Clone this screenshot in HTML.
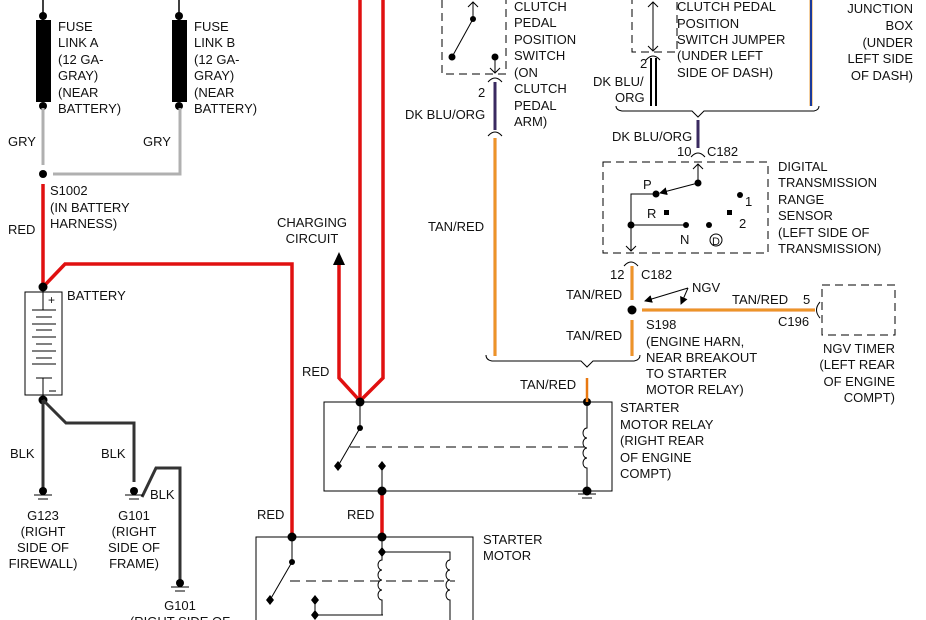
<!DOCTYPE html>
<html><head><style>
body{margin:0;background:#fff}
svg{display:block}
text{font-family:"Liberation Sans",Arial,sans-serif;font-size:13px;fill:#111}
</style></head><body>
<svg width="926" height="620" viewBox="0 0 926 620" xmlns="http://www.w3.org/2000/svg">
<defs>
<marker id="ah" markerWidth="8" markerHeight="8" refX="7" refY="4" orient="auto" markerUnits="userSpaceOnUse"><path d="M0,0 L8,4 L0,8z" fill="#000"/></marker>
</defs>
<!-- fuse links -->
<g stroke="#000" stroke-width="1.5">
<line x1="43" y1="0" x2="43" y2="20"/><line x1="179" y1="0" x2="179" y2="20"/>
</g>
<rect x="36" y="20" width="15" height="82" fill="#000"/>
<rect x="172" y="20" width="15" height="82" fill="#000"/>
<g fill="#000"><circle cx="43" cy="16" r="4"/><circle cx="43" cy="106" r="4"/><circle cx="179" cy="16" r="4"/><circle cx="179" cy="106" r="4"/><circle cx="43" cy="174" r="4"/></g>
<g stroke="#b0b0b0" stroke-width="3" fill="none">
<line x1="43" y1="108" x2="43" y2="165"/><polyline points="53,174 180,174 180,108"/>
</g>
<g>
<text x="58" y="31">FUSE</text><text x="58" y="47">LINK A</text><text x="58" y="64">(12 GA-</text><text x="58" y="80">GRAY)</text><text x="58" y="97">(NEAR</text><text x="58" y="113">BATTERY)</text>
<text x="194" y="31">FUSE</text><text x="194" y="47">LINK B</text><text x="194" y="64">(12 GA-</text><text x="194" y="80">GRAY)</text><text x="194" y="97">(NEAR</text><text x="194" y="113">BATTERY)</text>
<text x="8" y="146">GRY</text><text x="143" y="146">GRY</text>
<text x="50" y="195">S1002</text><text x="50" y="212">(IN BATTERY</text><text x="50" y="228">HARNESS)</text>
<text x="8" y="234">RED</text>
</g>
<!-- red wires -->
<g stroke="#e01010" stroke-width="3.5" fill="none">
<line x1="43" y1="184" x2="43" y2="287"/>
<polyline points="43,287 65,264 292,264 292,537"/>
<polyline points="339,265 339,378 360,401"/>
<line x1="360" y1="0" x2="360" y2="401"/>
<polyline points="383,0 383,378 360,401"/>
<line x1="382" y1="491" x2="382" y2="537"/>
</g>
<path d="M333,265 L339,252 L345,265z" fill="#000"/>
<text x="312" y="227" text-anchor="middle">CHARGING</text><text x="312" y="243" text-anchor="middle">CIRCUIT</text>
<text x="302" y="376">RED</text><text x="257" y="519">RED</text><text x="347" y="519">RED</text>
<!-- battery -->
<rect x="25" y="292" width="37" height="103" fill="none" stroke="#000" stroke-width="1"/>
<g stroke="#000" stroke-width="1">
<line x1="43" y1="292" x2="43" y2="310"/>
<line x1="32" y1="310" x2="56" y2="310"/><line x1="36" y1="317" x2="52" y2="317"/>
<line x1="32" y1="324" x2="56" y2="324"/><line x1="36" y1="330" x2="52" y2="330"/>
<line x1="32" y1="337" x2="56" y2="337"/><line x1="36" y1="344" x2="52" y2="344"/>
<line x1="32" y1="351" x2="56" y2="351"/><line x1="36" y1="358" x2="52" y2="358"/>
<line x1="32" y1="364" x2="56" y2="364"/><line x1="36" y1="378" x2="52" y2="378"/>
<line x1="43" y1="378" x2="43" y2="395"/>
<line x1="49" y1="391" x2="56" y2="391"/>
</g>
<text x="48" y="304" style="font-size:12px">+</text>
<text x="67" y="300">BATTERY</text>
<circle cx="43" cy="287" r="4.5" fill="#000"/>
<circle cx="43" cy="400" r="4.5" fill="#000"/>
<!-- black grounds -->
<g stroke="#333" stroke-width="3" fill="none">
<line x1="43" y1="400" x2="43" y2="488"/>
<polyline points="43,400 66,423 134,423 134,482"/>
<polyline points="142,497 156,468 180,468 180,580"/>
</g>
<g fill="#000"><circle cx="43" cy="491" r="4"/><circle cx="134" cy="491" r="4"/><circle cx="180" cy="583" r="4"/></g>
<g stroke="#000" stroke-width="1">
<line x1="34" y1="495" x2="52" y2="495"/><line x1="38" y1="499" x2="48" y2="499"/>
<line x1="125" y1="495" x2="143" y2="495"/><line x1="129" y1="499" x2="139" y2="499"/>
<line x1="171" y1="587" x2="189" y2="587"/><line x1="175" y1="591" x2="185" y2="591"/>
</g>
<text x="10" y="458">BLK</text><text x="101" y="458">BLK</text><text x="150" y="499">BLK</text>
<g text-anchor="middle">
<text x="43" y="520">G123</text><text x="43" y="536">(RIGHT</text><text x="43" y="552">SIDE OF</text><text x="43" y="568">FIREWALL)</text>
<text x="134" y="520">G101</text><text x="134" y="536">(RIGHT</text><text x="134" y="552">SIDE OF</text><text x="134" y="568">FRAME)</text>
<text x="180" y="610">G101</text><text x="180" y="626">(RIGHT SIDE OF</text>
</g>
<!-- relay -->
<rect x="324" y="402" width="288" height="89" fill="none" stroke="#000" stroke-width="1"/>
<g stroke="#000" stroke-width="1" fill="none">
<line x1="360" y1="402" x2="360" y2="428"/><line x1="360" y1="428" x2="338" y2="466"/>
<line x1="382" y1="466" x2="382" y2="491"/>
<line x1="350" y1="447" x2="590" y2="447" stroke-dasharray="10,6"/>
<path d="M587,402 V428 a4,5 0 0 0 0,10 a4,5 0 0 0 0,10 a4,5 0 0 0 0,10 a4,5 0 0 0 0,10 V491"/>
<line x1="578" y1="494" x2="596" y2="494"/><line x1="582" y1="498" x2="592" y2="498"/>
</g>
<g fill="#000"><circle cx="360" cy="402" r="4.5"/><circle cx="360" cy="428" r="3"/><path d="M338,461 l4,5 -4,5 -4,-5z"/><path d="M382,461 l4,5 -4,5 -4,-5z"/><circle cx="382" cy="491" r="4.5"/><circle cx="587" cy="402" r="4"/><circle cx="587" cy="491" r="4.5"/></g>
<line x1="587" y1="378" x2="587" y2="402" stroke="#e87810" stroke-width="2.5"/>
<text x="520" y="389">TAN/RED</text>
<text x="620" y="412">STARTER</text><text x="620" y="429">MOTOR RELAY</text><text x="620" y="445">(RIGHT REAR</text><text x="620" y="462">OF ENGINE</text><text x="620" y="478">COMPT)</text>
<!-- starter motor -->
<rect x="256" y="537" width="217" height="100" fill="none" stroke="#000" stroke-width="1"/>
<g stroke="#000" stroke-width="1" fill="none">
<line x1="292" y1="537" x2="292" y2="562"/><line x1="292" y1="562" x2="270" y2="600"/>
<polyline points="315,600 315,615 383,615"/>
<path d="M382,537 V560 a4,5 0 0 0 0,10 a4,5 0 0 0 0,10 a4,5 0 0 0 0,10 a4,5 0 0 0 0,10 V615"/>
<polyline points="382,552 450,552 450,560"/>
<path d="M450,560 a4,5 0 0 0 0,10 a4,5 0 0 0 0,10 a4,5 0 0 0 0,10 a4,5 0 0 0 0,10 V620"/>
<line x1="290" y1="581" x2="455" y2="581" stroke-dasharray="10,6"/>
</g>
<g fill="#000"><circle cx="292" cy="537" r="4.5"/><circle cx="382" cy="537" r="4.5"/><circle cx="292" cy="562" r="3"/><path d="M270,595 l4,5 -4,5 -4,-5z"/><path d="M315,595 l4,5 -4,5 -4,-5z"/><path d="M315,610 l4,5 -4,5 -4,-5z"/><path d="M382,547 l4,5 -4,5 -4,-5z"/></g>
<text x="483" y="544">STARTER</text><text x="483" y="560">MOTOR</text>
<!-- clutch switch -->
<rect x="442" y="-5" width="64" height="79" fill="none" stroke="#000" stroke-dasharray="8,5"/>
<g stroke="#000" stroke-width="1" fill="none">
<line x1="473" y1="2" x2="473" y2="19"/><path d="M468,7 L473,2 L478,7"/>
<line x1="473" y1="19" x2="452" y2="57"/>
<line x1="495" y1="57" x2="495" y2="73"/><path d="M490,68 L495,73 L500,68"/>
<path d="M488,82 Q495,74 502,82"/><path d="M488,136 Q495,128 502,136"/>
</g>
<g fill="#000"><circle cx="473" cy="19" r="3"/><circle cx="452" cy="57" r="3.5"/><circle cx="495" cy="57" r="3.5"/></g>
<line x1="495" y1="82" x2="495" y2="130" stroke="#3a2a60" stroke-width="3"/>
<line x1="495" y1="138" x2="495" y2="356" stroke="#e87810" stroke-width="3"/>
<line x1="495" y1="138" x2="495" y2="356" stroke="#f0b040" stroke-width="1"/>
<text x="478" y="97">2</text><text x="405" y="119">DK BLU/ORG</text><text x="428" y="231">TAN/RED</text>
<text x="514" y="11">CLUTCH</text><text x="514" y="27">PEDAL</text><text x="514" y="44">POSITION</text><text x="514" y="60">SWITCH</text><text x="514" y="77">(ON</text><text x="514" y="93">CLUTCH</text><text x="514" y="110">PEDAL</text><text x="514" y="126">ARM)</text>
<!-- jumper -->
<rect x="632" y="-5" width="45" height="57" fill="none" stroke="#000" stroke-dasharray="8,5"/>
<g stroke="#000" stroke-width="1" fill="none">
<line x1="653" y1="2" x2="653" y2="51"/><path d="M648,7 L653,2 L658,7"/><path d="M648,46 L653,51 L658,46"/>
<path d="M646,60 Q653,52 660,60"/>
<line x1="651" y1="58" x2="651" y2="106" stroke-width="2"/><line x1="656" y1="58" x2="656" y2="106" stroke-width="2"/>
</g>
<text x="640" y="68">2</text><text x="593" y="86">DK BLU/</text><text x="615" y="102">ORG</text>
<text x="677" y="11">CLUTCH PEDAL</text><text x="677" y="28">POSITION</text><text x="677" y="44">SWITCH JUMPER</text><text x="677" y="60">(UNDER LEFT</text><text x="677" y="77">SIDE OF DASH)</text>
<line x1="811" y1="0" x2="811" y2="106" stroke="#e8a040" stroke-width="3"/>
<line x1="811" y1="0" x2="811" y2="106" stroke="#1a3a9a" stroke-width="2"/>
<g text-anchor="end"><text x="913" y="13">JUNCTION</text><text x="913" y="30">BOX</text><text x="913" y="47">(UNDER</text><text x="913" y="63">LEFT SIDE</text><text x="913" y="80">OF DASH)</text></g>
<path d="M616,106 Q616,110 622,111 L692,111 L698,117 L704,111 L814,111 Q819,110 819,106" fill="none" stroke="#000"/>
<line x1="698" y1="120" x2="698" y2="148" stroke="#3a2a60" stroke-width="3"/>
<path d="M691,157 Q698,149 705,157" fill="none" stroke="#000"/>
<text x="612" y="141">DK BLU/ORG</text><text x="677" y="156">10</text><text x="707" y="156">C182</text>
<!-- DTRS -->
<rect x="603" y="162" width="165" height="91" fill="none" stroke="#000" stroke-dasharray="8,5"/>
<g stroke="#000" stroke-width="1" fill="none">
<line x1="698" y1="164" x2="698" y2="183"/><path d="M693,169 L698,164 L703,169"/>
<line x1="698" y1="183" x2="660" y2="193" marker-end="url(#ah)"/>
<polyline points="656,194 631,194 631,251"/><path d="M626,246 L631,251 L636,246"/>
<line x1="631" y1="225" x2="686" y2="225"/>
<circle cx="716" cy="240" r="6"/>
<path d="M624,266 Q631,258 638,266"/>
</g>
<g fill="#000"><circle cx="698" cy="183" r="3.5"/><circle cx="656" cy="194" r="3.5"/><circle cx="631" cy="225" r="3.5"/><circle cx="686" cy="225" r="3"/><circle cx="709" cy="225" r="3"/><circle cx="740" cy="195" r="3"/><rect x="664" y="210" width="5" height="5"/><rect x="727" y="210" width="5" height="5"/></g>
<text x="643" y="189">P</text><text x="647" y="218">R</text><text x="680" y="244">N</text><text x="745" y="206">1</text><text x="739" y="228">2</text><text x="712" y="245" style="font-size:11px">D</text>
<text x="778" y="171">DIGITAL</text><text x="778" y="187">TRANSMISSION</text><text x="778" y="204">RANGE</text><text x="778" y="220">SENSOR</text><text x="778" y="237">(LEFT SIDE OF</text><text x="778" y="253">TRANSMISSION)</text>
<!-- S198 -->
<g stroke="#e87810" stroke-width="3">
<line x1="632" y1="266" x2="632" y2="300"/><line x1="632" y1="320" x2="632" y2="356"/><line x1="642" y1="310" x2="815" y2="310"/>
</g>
<g stroke="#f0b040" stroke-width="1">
<line x1="632" y1="266" x2="632" y2="300"/><line x1="632" y1="320" x2="632" y2="356"/><line x1="642" y1="310" x2="815" y2="310"/>
</g>
<circle cx="632" cy="310" r="4.5" fill="#000"/>
<g stroke="#000" stroke-width="1"><line x1="688" y1="288" x2="645" y2="301" marker-end="url(#ah)"/><line x1="688" y1="288" x2="681" y2="304" marker-end="url(#ah)"/></g>
<path d="M820,302 Q813,310 820,318" fill="none" stroke="#000"/>
<rect x="822" y="285" width="73" height="50" fill="none" stroke="#000" stroke-dasharray="8,5"/>
<text x="610" y="279">12</text><text x="641" y="279">C182</text><text x="566" y="299">TAN/RED</text><text x="692" y="292">NGV</text>
<text x="732" y="304">TAN/RED</text><text x="803" y="304">5</text><text x="778" y="326">C196</text>
<text x="566" y="340">TAN/RED</text>
<text x="646" y="329">S198</text><text x="646" y="346">(ENGINE HARN,</text><text x="646" y="362">NEAR BREAKOUT</text><text x="646" y="378">TO STARTER</text><text x="646" y="394">MOTOR RELAY)</text>
<g text-anchor="end"><text x="895" y="353">NGV TIMER</text><text x="895" y="369">(LEFT REAR</text><text x="895" y="386">OF ENGINE</text><text x="895" y="402">COMPT)</text></g>
<path d="M486,355 Q486,360 492,361 L581,361 L587,367 L593,361 L634,361 Q640,360 640,355" fill="none" stroke="#000"/>
</svg>
</body></html>
